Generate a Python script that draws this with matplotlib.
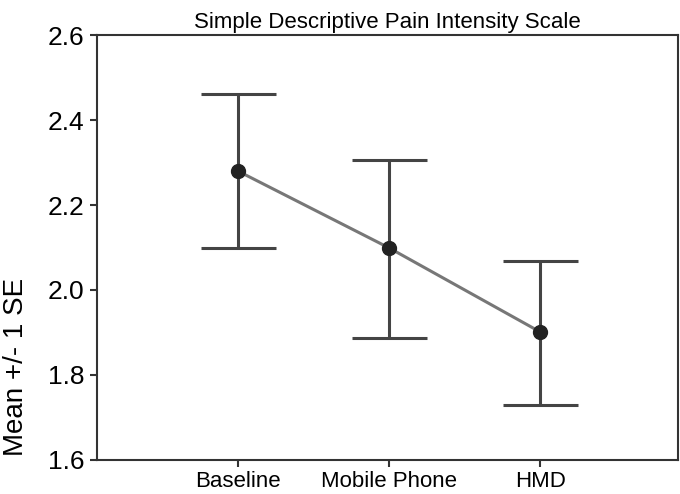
import numpy as np
import matplotlib.pyplot as plt

plt.rcParams['font.family'] = ['Liberation Sans', 'DejaVu Sans']

groups = ["Baseline", "Mobile Phone", "HMD"]
means = [2.28, 2.099, 1.901]
upper = [2.461, 2.307, 2.069]
lower = [2.099, 1.888, 1.730]

x = np.arange(1, len(groups) + 1)
means = np.array(means)
err = [means - np.array(lower), np.array(upper) - means]

fig = plt.figure(figsize=(6.8, 4.94), dpi=100)
ax = fig.add_axes([0.143, 0.069, 0.854, 0.86])

ax.plot(x, means, color='#777777', lw=2.2, zorder=2)
ax.errorbar(x, means, yerr=err, fmt='none', ecolor='#444444', elinewidth=2.2,
            capsize=27, capthick=2.2, zorder=3)
ax.plot(x, means, 'o', color='#222222', ms=10, zorder=4)

ax.set_xlim(0.07, 3.91)
ax.set_ylim(1.6, 2.6)
ax.set_yticks([1.6, 1.8, 2.0, 2.2, 2.4, 2.6])
ax.set_yticklabels(["1.6", "1.8", "2.0", "2.2", "2.4", "2.6"], fontsize=19)
ax.set_xticks(x)
ax.set_xticklabels(groups, fontsize=16)
ax.tick_params(axis='both', direction='out', length=5, width=1.5, color='#333333')
ax.tick_params(axis='x', pad=3)
ax.tick_params(axis='y', pad=4)
for s in ax.spines.values():
    s.set_color('#333333')
    s.set_linewidth(1.5)

ax.set_ylabel("Mean +/- 1 SE", fontsize=20)
ax.yaxis.set_label_coords(-0.118, 0.22)
ax.set_title("Simple Descriptive Pain Intensity Scale", fontsize=16, pad=5)

fig.savefig("out.png", dpi=100)
